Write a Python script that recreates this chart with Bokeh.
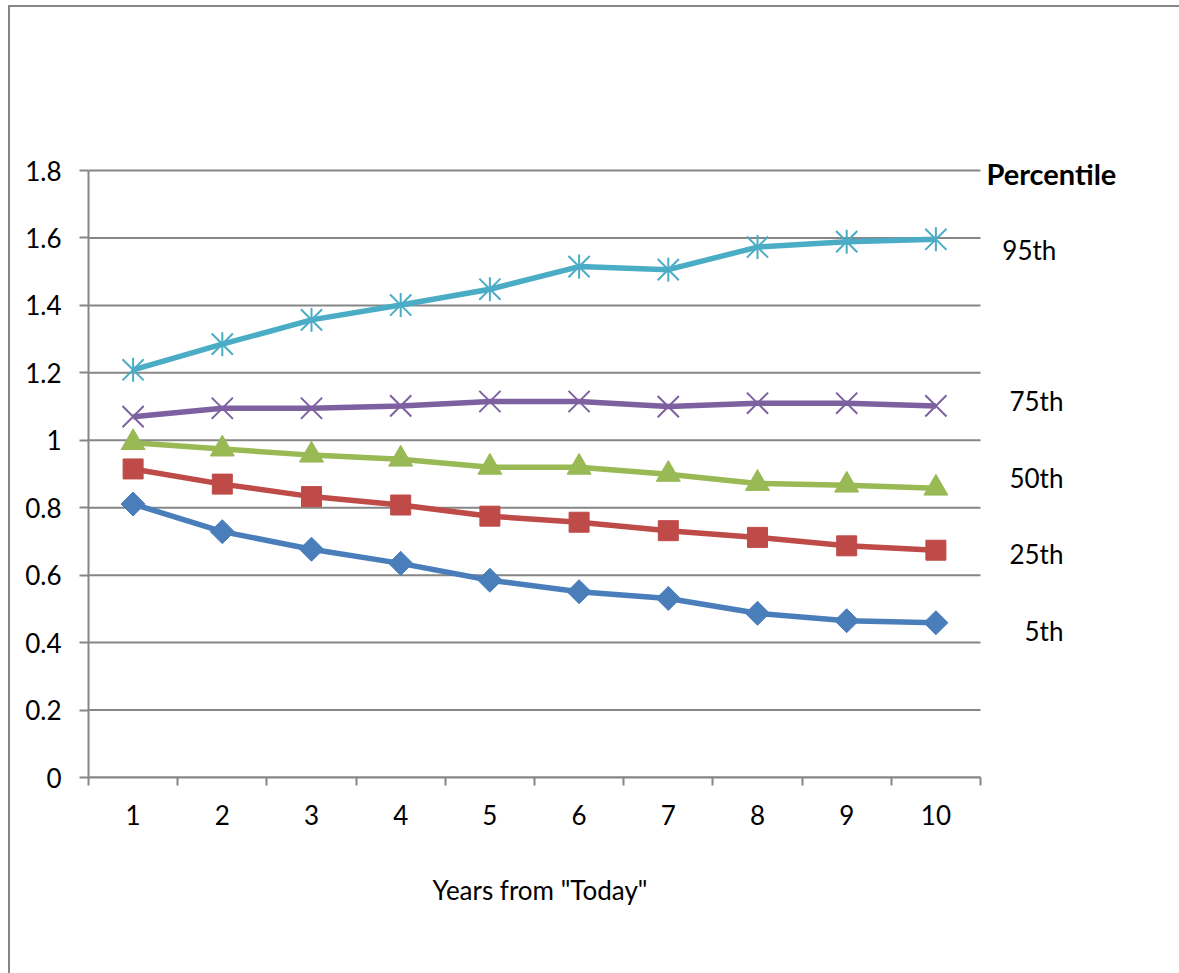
import math
from bokeh.plotting import figure
from bokeh.models import Range1d, FixedTicker, CustomJSTickFormatter, Label, Title
from bokeh.embed import file_html
from bokeh.resources import INLINE

# Years ahead and simulated percentile outcomes
years = [1, 2, 3, 4, 5, 6, 7, 8, 9, 10]
p5 = [0.811, 0.729, 0.677, 0.635, 0.585, 0.551, 0.531, 0.487, 0.465, 0.459]
p25 = [0.915, 0.870, 0.833, 0.808, 0.775, 0.757, 0.732, 0.712, 0.687, 0.674]
p50 = [0.993, 0.974, 0.956, 0.944, 0.920, 0.920, 0.899, 0.872, 0.867, 0.858]
p75 = [1.070, 1.095, 1.095, 1.102, 1.115, 1.115, 1.100, 1.110, 1.110, 1.102]
p95 = [1.209, 1.285, 1.357, 1.401, 1.448, 1.515, 1.506, 1.573, 1.589, 1.596]

y_ticks = [0, 0.2, 0.4, 0.6, 0.8, 1.0, 1.2, 1.4, 1.6, 1.8]
series_names = ["95th", "75th", "50th", "25th", "5th"]

FONT = "Lato"
GRAY = "#868686"

# Plot area spans 0.5..10.5 by 0..1.8; the frame is extended to the right and
# upwards so that the percentile key sits inside it.
X_LO, X_HI, X_END = 0.5, 10.5, 12.731
Y_LO, Y_HI, Y_END = 0.0, 1.8, 2.2834

p = figure(
    frame_width=1091, frame_height=770,
    min_border_left=78, min_border_top=0, min_border_right=0, min_border_bottom=196,
    x_range=Range1d(X_LO, X_END), y_range=Range1d(Y_LO, Y_END),
    output_backend="svg", toolbar_location=None,
    margin=(5, 0, 0, 8),
    styles={"border-left": f"2px solid {GRAY}", "border-top": f"2px solid {GRAY}"},
)
p.outline_line_color = None
p.background_fill_color = "white"
p.border_fill_color = "white"
p.grid.grid_line_color = None

# x axis: labels at category centres, tick marks between categories
p.xaxis.bounds = (X_LO, X_HI)
p.xaxis.ticker = FixedTicker(ticks=years, minor_ticks=[y - 0.5 for y in years] + [10.5])
p.xaxis.major_tick_line_color = None
p.xaxis.minor_tick_line_color = GRAY
p.xaxis.minor_tick_line_width = 2
p.xaxis.minor_tick_in = 0
p.xaxis.minor_tick_out = 8
p.xaxis.axis_line_color = GRAY
p.xaxis.axis_line_width = 2
p.xaxis.major_label_text_font = FONT
p.xaxis.major_label_text_font_size = "26px"
p.xaxis.major_label_text_color = "black"
p.xaxis.major_label_standoff = 19

# blank band between the tick labels and the axis title
p.add_layout(Title(text=" ", standoff=0, text_font=FONT, text_font_size="20px"), "below")

# x axis title, placed under the plot area's centre
p.add_layout(Title(text='Years from "Today"', align="left", offset=344, standoff=40,
                   vertical_align="top",
                   text_font=FONT, text_font_size="26px", text_font_style="normal",
                   text_color="black"), "below")

# y axis
p.yaxis.bounds = (Y_LO, Y_HI)
p.yaxis.ticker = FixedTicker(ticks=y_ticks)
p.yaxis.formatter = CustomJSTickFormatter(code="return String(Math.round(tick * 10) / 10);")
p.yaxis.major_tick_line_color = GRAY
p.yaxis.major_tick_line_width = 2
p.yaxis.major_tick_in = 0
p.yaxis.major_tick_out = 9
p.yaxis.minor_tick_line_color = None
p.yaxis.axis_line_color = GRAY
p.yaxis.axis_line_width = 2
p.yaxis.major_label_text_font = FONT
p.yaxis.major_label_text_font_size = "26px"
p.yaxis.major_label_text_color = "black"
p.yaxis.major_label_standoff = 18

# horizontal gridlines across the plot area only
p.segment(x0=[X_LO] * len(y_ticks), x1=[X_HI] * len(y_ticks), y0=y_ticks, y1=y_ticks,
          line_color=GRAY, line_width=2)

LW = 5.5
c5, c25, c50, c75, c95 = "#4A7EBB", "#BE4B48", "#98B954", "#7D60A0", "#4BACC6"

# 5th percentile: diamonds
p.line(years, p5, line_color=c5, line_width=LW)
p.scatter(years, p5, marker="square", angle=math.pi / 4, size=17, fill_color=c5, line_color=c5)

# 25th percentile: squares
p.line(years, p25, line_color=c25, line_width=LW)
p.scatter(years, p25, marker="square", size=20, fill_color=c25, line_color=c25)

# 50th percentile: triangles
p.line(years, p50, line_color=c50, line_width=LW)
p.scatter(years, p50, marker="triangle", size=24, fill_color=c50, line_color=c50)

# 75th percentile: crosses
p.line(years, p75, line_color=c75, line_width=LW)
p.scatter(years, p75, marker="x", size=30, line_color=c75, line_width=2)

# 95th percentile: stars (cross plus vertical stroke)
p.line(years, p95, line_color=c95, line_width=LW)
p.scatter(years, p95, marker="x", size=30, line_color=c95, line_width=2)
p.scatter(years, p95, marker="dash", angle=math.pi / 2, size=24, line_color=c95, line_width=2)

# Percentile key on the right
p.add_layout(Label(x=10.567, y=1.792, text="Percentile", text_font=FONT, text_font_size="29px",
                   text_font_style="bold", text_baseline="middle", text_align="left", text_color="black"))
label_y = [1.564, 1.116, 0.888, 0.663, 0.434]
label_x = [11.35, 11.43, 11.43, 11.43, 11.43]
for name, lx, ly in zip(series_names, label_x, label_y):
    p.add_layout(Label(x=lx, y=ly, text=name, text_font=FONT, text_font_size="26px",
                       text_baseline="middle", text_align="right", text_color="black"))

open("out.html", "w").write(file_html(p, INLINE))
